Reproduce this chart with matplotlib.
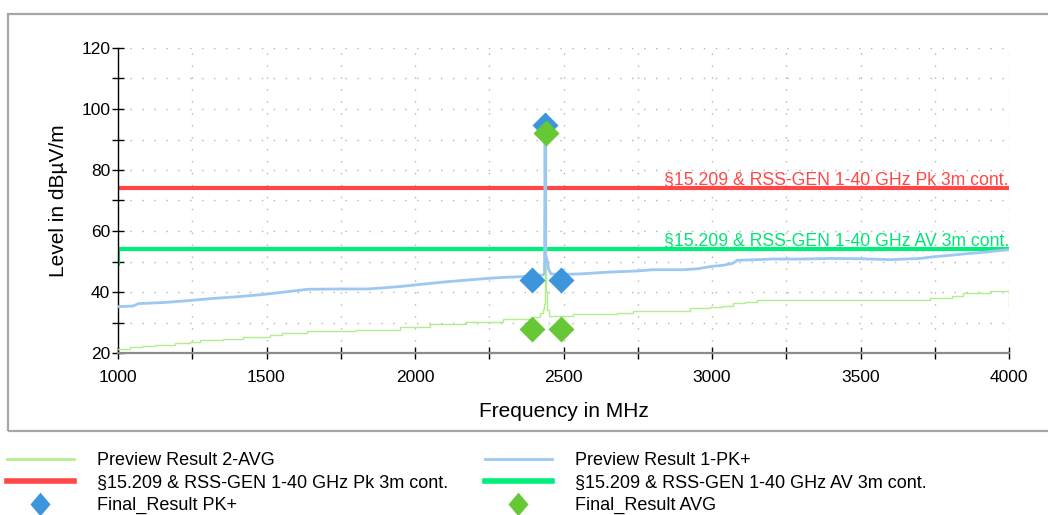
import matplotlib
matplotlib.use('Agg')
import matplotlib.pyplot as plt
from matplotlib.lines import Line2D
from matplotlib.patches import Rectangle
from matplotlib.ticker import MultipleLocator

# preview traces (MHz, dBuV/m)
pk_freq = [1000, 1050, 1070, 1100, 1160, 1240, 1320, 1410, 1500, 1570, 1640, 1750,
           1840, 1900, 1950, 2000, 2050, 2100, 2150, 2200, 2250, 2300, 2350, 2400,
           2430, 2436, 2438, 2440, 2445, 2450, 2458, 2500, 2550, 2600, 2650, 2700,
           2750, 2800, 2850, 2900, 2950, 3000, 3040, 3070, 3085, 3150, 3200, 3300,
           3400, 3500, 3600, 3700, 3750, 3800, 3850, 3900, 3950, 4000]
pk_level = [35.2, 35.4, 36.2, 36.3, 36.6, 37.2, 37.9, 38.5, 39.3, 40.1, 40.9, 41.0,
            41.0, 41.4, 41.8, 42.3, 42.8, 43.3, 43.7, 44.1, 44.5, 44.8, 45.0, 45.3,
            45.6, 46.0, 94.5, 52.0, 50.5, 47.5, 45.9, 45.8, 45.9, 46.2, 46.5, 46.7,
            46.9, 47.3, 47.3, 47.3, 47.6, 48.4, 48.8, 49.4, 50.4, 50.6, 50.8, 50.8,
            51.0, 50.9, 50.6, 51.0, 51.6, 52.0, 52.5, 52.9, 53.4, 53.9]

av_freq = [1000, 1040, 1080, 1125, 1192, 1242, 1276, 1354, 1421, 1512, 1552, 1636,
           1800, 1949, 1983, 2050, 2172, 2296, 2397, 2420, 2432, 2436, 2438, 2440,
           2443, 2450, 2532, 2680, 2734, 2926, 2993, 3032, 3071, 3111, 3150, 3734,
           3808, 3845, 3936, 3999, 4000]
av_level = [21.3, 21.9, 22.3, 22.6, 23.2, 23.6, 24.2, 24.5, 25.1, 25.9, 26.7, 27.2,
            27.6, 28.4, 28.6, 29.5, 30.3, 31.0, 31.9, 33.0, 34.5, 36.0, 92.0, 40.0,
            34.0, 32.2, 32.7, 33.2, 33.9, 34.6, 35.2, 35.5, 36.3, 36.8, 37.4, 37.9,
            38.7, 39.6, 40.3, 40.3, 35.6]

# limit lines
pk_limit_freq = [1000, 4000]
pk_limit_level = [74, 74]
av_limit_freq = [1000, 1000, 4000]
av_limit_level = [48.5, 54, 54]

# final measurements
pk_final_freq = [2393, 2438, 2490]
pk_final_level = [43.8, 94.7, 43.8]
av_final_freq = [2393, 2440, 2490]
av_final_level = [27.8, 92.1, 27.8]

pk_limit_label = '§15.209 & RSS-GEN 1-40 GHz Pk 3m cont.'
av_limit_label = '§15.209 & RSS-GEN 1-40 GHz AV 3m cont.'

C_PK = '#9cc8f2'
C_AV = '#b2ef8c'
C_PKLIM = '#ff4747'
C_AVLIM = '#00ee7a'
C_PKMK = '#3d95dc'
C_AVMK = '#66c835'

plt.rcParams['font.family'] = ['Liberation Sans', 'DejaVu Sans']

W, H = 1048, 515
fig = plt.figure(figsize=(W / 100, H / 100), dpi=100)

# grey outer frame
fig.patches.append(Rectangle((8 / W, 1 - 431 / H), 1.2, (431 - 14) / H,
                             transform=fig.transFigure, fill=False,
                             edgecolor='#a6a6a6', lw=1.6))

ax = fig.add_axes([118 / W, 1 - 353 / H, 891 / W, 305 / H])

ax.plot(av_freq, av_level, color=C_AV, lw=1.0, drawstyle='steps-post', zorder=3)
ax.plot(pk_freq, pk_level, color=C_PK, lw=2.0, zorder=3)
ax.plot(pk_limit_freq, pk_limit_level, color=C_PKLIM, lw=3.0, zorder=2,
        solid_capstyle='butt')
ax.plot(av_limit_freq, av_limit_level, color=C_AVLIM, lw=3.0, zorder=2,
        solid_capstyle='butt')
ax.plot(pk_final_freq, pk_final_level, ls='none', marker='D', ms=13,
        color=C_PKMK, mec='none', zorder=5)
ax.plot(av_final_freq, av_final_level, ls='none', marker='D', ms=13,
        color=C_AVMK, mec='none', zorder=6)

ax.text(4000, 75.0, pk_limit_label, color=C_PKLIM, fontsize=12.7,
        ha='right', va='baseline')
ax.text(4000, 55.2, av_limit_label, color='#00e676', fontsize=12.7,
        ha='right', va='baseline')

ax.set_xlim(1000, 4000)
ax.set_ylim(20, 120)
ax.xaxis.set_major_locator(MultipleLocator(500))
ax.xaxis.set_minor_locator(MultipleLocator(250))
ax.yaxis.set_major_locator(MultipleLocator(20))
ax.yaxis.set_minor_locator(MultipleLocator(10))

ax.grid(which='both', color='#b3b3b3', lw=1.0, ls=(0, (1, 7.6)))
ax.set_axisbelow(True)

for s in ['top', 'right']:
    ax.spines[s].set_visible(False)
ax.spines['left'].set_color('black')
ax.spines['left'].set_linewidth(1.0)
ax.spines['bottom'].set_color('#8c8c8c')
ax.spines['bottom'].set_linewidth(1.6)

ax.tick_params(which='both', direction='inout', length=9, width=1.0,
               color='black', labelsize=12.5)
ax.tick_params(axis='x', pad=8)
ax.tick_params(axis='y', pad=1)

ax.set_xlabel('Frequency in MHz', fontsize=15)
ax.set_ylabel('Level in dBµV/m', fontsize=15)
ax.xaxis.set_label_coords(0.5, -0.16)
ax.yaxis.set_label_coords(-0.056, 0.5)

# legend, two columns placed by hand
mk = [(0, 1), (0.85, 0), (0, -1), (-0.85, 0)]
h_av = Line2D([], [], color=C_AV, lw=2)
h_pk = Line2D([], [], color=C_PK, lw=2)
h_pklim = Line2D([], [], color=C_PKLIM, lw=4)
h_avlim = Line2D([], [], color=C_AVLIM, lw=4)
h_pkmk = Line2D([], [], ls='none', marker=mk, ms=17, color=C_PKMK, mec='none')
h_avmk = Line2D([], [], ls='none', marker=mk, ms=17, color=C_AVMK, mec='none')

leg_kw = dict(loc='upper left', frameon=False, fontsize=13, borderpad=0,
              borderaxespad=0, handlelength=3.7, handletextpad=1.3,
              labelspacing=0.3)
leg1 = fig.legend([h_av, h_pklim, h_pkmk],
                  ['Preview Result 2-AVG', pk_limit_label, 'Final_Result PK+'],
                  bbox_to_anchor=(7 / W, 1 - 452 / H), **leg_kw)
leg2 = fig.legend([h_pk, h_avlim, h_avmk],
                  ['Preview Result 1-PK+', av_limit_label, 'Final_Result AVG'],
                  bbox_to_anchor=(485 / W, 1 - 452 / H), **leg_kw)

fig.savefig('out.png', dpi=100)
